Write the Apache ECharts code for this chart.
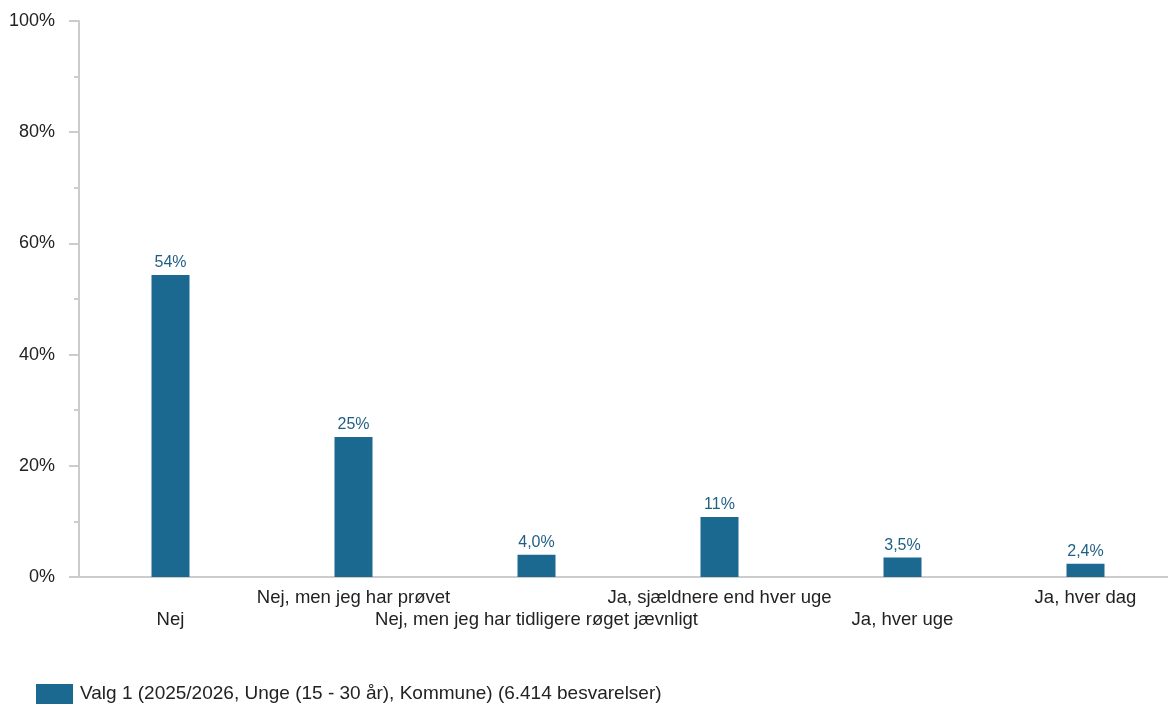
<!DOCTYPE html>
<html>
<head>
<meta charset="utf-8">
<script src="https://cdn.jsdelivr.net/npm/echarts@6/dist/echarts.min.js"></script>
<style>
html,body{margin:0;padding:0;background:#fff;overflow:hidden;width:1168px;height:708px;}
#chart{width:1177px;height:708px;}
</style>
</head>
<body>
<div id="chart"></div>
<script>
const categories = [
  "Nej",
  "Nej, men jeg har prøvet",
  "Nej, men jeg har tidligere røget jævnligt",
  "Ja, sjældnere end hver uge",
  "Ja, hver uge",
  "Ja, hver dag"
];
const values = [54.3, 25.2, 4.0, 10.8, 3.5, 2.4];
const seriesName = "Valg 1 (2025/2026, Unge (15 - 30 år), Kommune) (6.414 besvarelser)";
const yTicks = [0, 20, 40, 60, 80, 100];

const barColor = "#1b6991";
const axisColor = "#cccccc";
const font = "'Liberation Sans', Arial, sans-serif";

function fmt(v) {
  if (v >= 10) return Math.round(v) + "%";
  return v.toFixed(1).replace(".", ",") + "%";
}

const chart = echarts.init(document.getElementById("chart"), null, {renderer: "canvas"});
chart.setOption({
  animation: false,
  textStyle: {fontFamily: font},
  grid: {left: 79, right: 0, top: 21, bottom: 131, containLabel: false},
  legend: {
    show: true,
    left: 36,
    top: 684,
    padding: 0,
    itemWidth: 37,
    itemHeight: 20,
    icon: "rect",
    textStyle: {fontFamily: font, fontSize: 19, color: "#222", padding: [0, 0, 0, 2]},
    data: [seriesName]
  },
  xAxis: {
    type: "category",
    data: categories,
    axisLine: {show: true, lineStyle: {color: axisColor, width: 2}},
    axisTick: {show: false},
    axisLabel: {
      interval: 0,
      hideOverlap: false,
      margin: 10,
      fontFamily: font,
      fontSize: 18.5,
      color: "#222",
      lineHeight: 22,
      formatter: function (v, i) { return (i % 2 === 0) ? "\n" + v : v; }
    }
  },
  yAxis: {
    type: "value",
    min: yTicks[0],
    max: yTicks[yTicks.length - 1],
    interval: 20,
    axisLine: {show: true, lineStyle: {color: axisColor, width: 2}},
    axisTick: {show: true, length: 10, lineStyle: {color: axisColor, width: 2}},
    minorTick: {show: true, splitNumber: 2, length: 5, lineStyle: {color: axisColor, width: 2}},
    splitLine: {show: false},
    axisLabel: {
      margin: 24,
      fontFamily: font,
      fontSize: 18,
      color: "#222",
      formatter: function (v) { return v + "%"; }
    }
  },
  series: [{
    name: seriesName,
    type: "bar",
    data: values,
    barWidth: 38,
    itemStyle: {color: barColor},
    label: {
      show: true,
      position: "top",
      distance: 4,
      fontFamily: font,
      fontSize: 16,
      color: "#1f5f84",
      formatter: function (p) { return fmt(p.value); }
    }
  }]
});
</script>
</body>
</html>
